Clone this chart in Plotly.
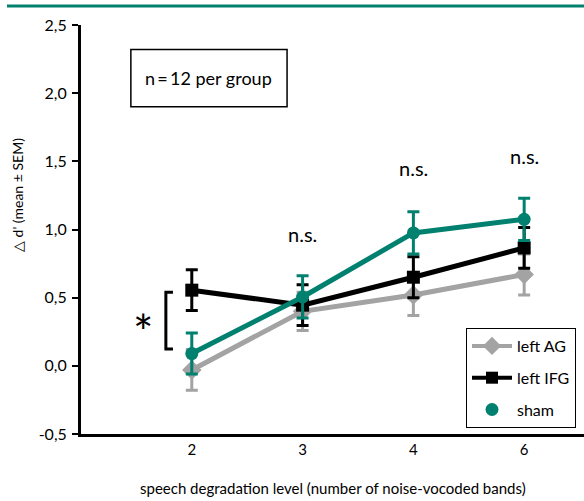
import plotly.graph_objects as go

levels = ["2", "3", "4", "6"]
xpos = [0, 1, 2, 3]
ag_mean = [-0.03, 0.40, 0.52, 0.67]
ag_sem = [0.15, 0.14, 0.15, 0.15]
ifg_mean = [0.555, 0.445, 0.65, 0.865]
ifg_sem = [0.15, 0.15, 0.15, 0.15]
sham_mean = [0.09, 0.505, 0.975, 1.075]
sham_sem = [0.15, 0.155, 0.155, 0.155]
ytick_vals = [-0.5, 0.0, 0.5, 1.0, 1.5, 2.0, 2.5]
ytick_text = ["-0,5", "0,0", "0,5", "1,0", "1,5", "2,0", "2,5"]
ns_x = [1, 2, 3]
ns_y = [0.97, 1.45, 1.54]

GRAY = "#a3a3a3"
TEAL = "#00806e"
FONT = "Lato"

fig = go.Figure()

def add_series(means, sems, color, symbol, size):
    fig.add_trace(go.Scatter(
        x=xpos, y=means, mode="lines+markers",
        line=dict(color=color, width=5),
        marker=dict(color=color, symbol=symbol, size=size),
        error_y=dict(type="data", array=sems, color=color, thickness=3, width=6),
        showlegend=False,
    ))

add_series(ag_mean, ag_sem, GRAY, "diamond", 15)
add_series(ifg_mean, ifg_sem, "black", "square", 13)
add_series(sham_mean, sham_sem, TEAL, "circle", 13)

fig.add_trace(go.Scatter(x=[None], y=[None], mode="lines+markers", name="left AG", legendgroup="a",
                         line=dict(color=GRAY, width=4), marker=dict(color=GRAY, symbol="diamond", size=14)))
fig.add_trace(go.Scatter(x=[None], y=[None], mode="lines+markers", name="left IFG", legendgroup="b",
                         line=dict(color="black", width=4), marker=dict(color="black", symbol="square", size=12)))
fig.add_trace(go.Scatter(x=[None], y=[None], mode="markers", name="sham", legendgroup="c",
                         marker=dict(color=TEAL, symbol="circle", size=13)))

for x, y in zip(ns_x, ns_y):
    fig.add_annotation(x=x, y=y, text="n.s.", showarrow=False,
                       font=dict(size=20, color="black", family=FONT))

# n = 12 box
fig.add_shape(type="rect", x0=-0.55, x1=0.86, y0=1.90, y1=2.32,
              line=dict(color="black", width=1.5), fillcolor="white", layer="below")
fig.add_annotation(x=0.155, y=2.11, text="n\u2009=\u200912 per group", showarrow=False,
                   font=dict(size=18, color="black", family=FONT))

# significance bracket
fig.add_shape(type="path", path="M -0.17 0.54 L -0.234 0.54 L -0.234 0.124 L -0.17 0.124",
              line=dict(color="black", width=3))
fig.add_annotation(x=-0.44, y=0.255, text="*", showarrow=False,
                   font=dict(size=48, color="black", family=FONT))

# top teal rule
fig.add_shape(type="line", xref="paper", yref="paper",
              x0=(7 - 81) / 503, x1=1.0, y0=(434 - 6) / 409, y1=(434 - 6) / 409,
              line=dict(color=TEAL, width=3))

# axis titles
fig.add_annotation(xref="paper", yref="paper", x=(17 - 81) / 503, y=(434 - 195) / 409,
                   text="\u25b3 d' (mean \u00b1 SEM)", textangle=-90, showarrow=False,
                   xanchor="center", yanchor="middle",
                   font=dict(size=14, color="black", family=FONT))
fig.add_annotation(xref="paper", yref="paper", x=0.5, y=-(488 - 434) / 409,
                   text="speech degradation level (number of noise-vocoded bands)",
                   showarrow=False, xanchor="center", yanchor="middle",
                   font=dict(size=15, color="black", family=FONT))

fig.update_layout(
    width=584, height=501,
    margin=dict(l=81, r=0, t=25, b=67),
    plot_bgcolor="white", paper_bgcolor="white",
    font=dict(family=FONT, color="black", size=14),
    legend=dict(x=(466 - 81) / 503, y=(434 - 328) / 409, xanchor="left", yanchor="top",
                bordercolor="black", borderwidth=1, bgcolor="white",
                traceorder="grouped", tracegroupgap=8,
                font=dict(size=16, family=FONT), itemwidth=40),
    xaxis=dict(range=[-1, 3.54], tickvals=xpos, ticktext=levels, showgrid=False,
               zeroline=False, showline=True, linecolor="black", linewidth=3,
               ticks="", tickfont=dict(size=15)),
    yaxis=dict(range=[-0.5, 2.5], tickvals=ytick_vals, ticktext=ytick_text, showgrid=False,
               zeroline=False, showline=True, linecolor="black", linewidth=3,
               ticks="outside", ticklen=6, tickwidth=2, tickcolor="black",
               ticklabelstandoff=2, tickfont=dict(size=16)),
)

fig.write_html("out.html", config={"displayModeBar": False},
               post_script="document.body.style.margin='0';document.body.style.overflow='hidden';")
